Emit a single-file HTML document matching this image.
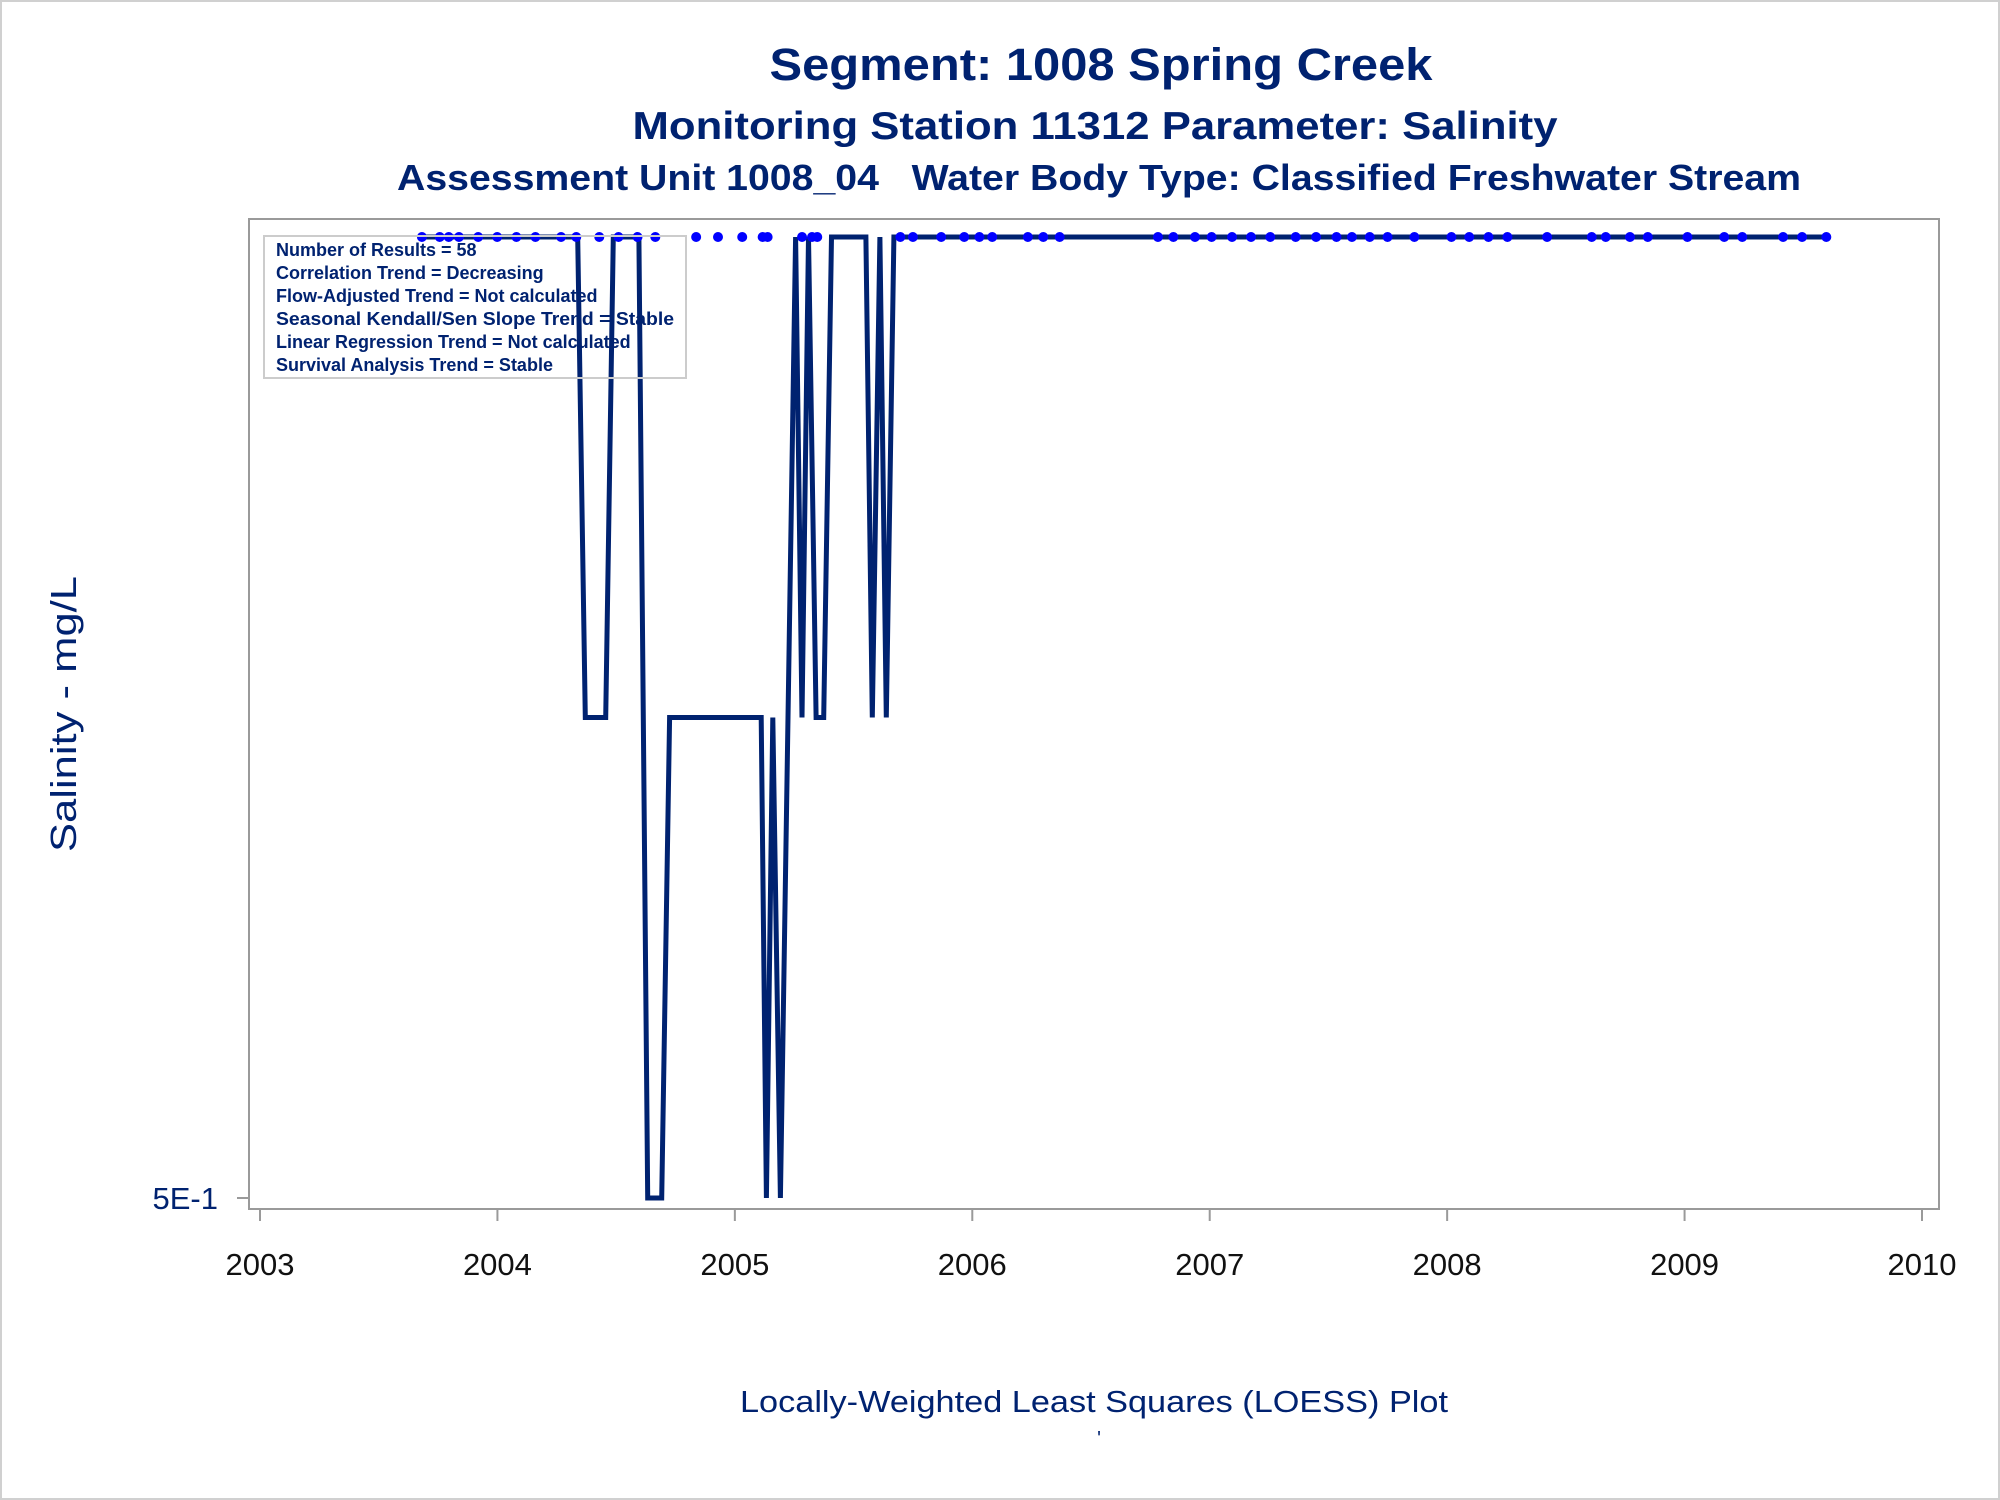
<!DOCTYPE html>
<html><head><meta charset="utf-8"><style>
html,body{margin:0;padding:0;background:#fff}
svg{display:block;font-family:"Liberation Sans",Arial,sans-serif}
</style></head><body>
<svg id="chart" width="2000" height="1500" viewBox="0 0 2000 1500">
<rect x="1" y="1" width="1998" height="1498" fill="#fff" stroke="#d0d0d0" stroke-width="2"/>
<g fill="#002270" font-weight="bold" text-anchor="middle">
<text x="1101" y="80" font-size="45" textLength="663" lengthAdjust="spacingAndGlyphs">Segment: 1008  Spring Creek</text>
<text x="1095" y="139" font-size="39" textLength="925" lengthAdjust="spacingAndGlyphs">Monitoring Station 11312 Parameter: Salinity</text>
<text x="1099" y="190" font-size="36" textLength="1404" lengthAdjust="spacingAndGlyphs" xml:space="preserve">Assessment Unit 1008_04   Water Body Type: Classified Freshwater Stream</text>
</g>
<rect x="249" y="219" width="1690" height="990" fill="none" stroke="#9a9a9a" stroke-width="2"/>
<g id="xaxis"></g>
<g id="yaxis"></g>
<g id="series"></g>
<g>
<rect x="264" y="236" width="422" height="142" fill="none" stroke="#cccccc" stroke-width="2"/>
<g fill="#002270" font-weight="bold" font-size="18">
<text x="276" y="256">Number of Results = 58</text>
<text x="276" y="279">Correlation Trend = Decreasing</text>
<text x="276" y="302">Flow-Adjusted Trend = Not calculated</text>
<text x="276" y="325" textLength="398" lengthAdjust="spacingAndGlyphs">Seasonal Kendall/Sen Slope Trend = Stable</text>
<text x="276" y="348">Linear Regression Trend = Not calculated</text>
<text x="276" y="371">Survival Analysis Trend = Stable</text>
</g></g>
<text transform="translate(76,714) rotate(-90)" text-anchor="middle" font-size="36" fill="#002270" textLength="276" lengthAdjust="spacingAndGlyphs">Salinity - mg/L</text>
<text x="1094" y="1412" text-anchor="middle" font-size="31" fill="#002270" textLength="708" lengthAdjust="spacingAndGlyphs">Locally-Weighted Least Squares (LOESS) Plot</text>
<text x="1099" y="1445" text-anchor="middle" font-size="20" fill="#002270">'</text>
</svg>
<script>
const xTicks = [2003, 2004, 2005, 2006, 2007, 2008, 2009, 2010];
const yTicks = [0.5];
const yTickLabels = ["5E-1"];
const lineDates = [2003.682,2004.338,2004.370,2004.456,2004.488,2004.596,2004.633,2004.692,2004.725,2005.111,2005.133,2005.160,2005.192,2005.256,2005.283,2005.310,2005.342,2005.374,2005.407,2005.552,2005.579,2005.611,2005.638,2005.670,2009.597];
const lineValues = [2,2,1,1,2,2,0.5,0.5,1,1,0.5,1,0.5,2,1,2,1,1,2,2,1,2,1,2,2];
const pointDates = [2003.682,2003.757,2003.795,2003.838,2003.919,2003.999,2004.080,2004.160,2004.268,2004.332,2004.429,2004.510,2004.590,2004.665,2004.837,2004.929,2005.031,2005.117,2005.138,2005.283,2005.325,2005.347,2005.697,2005.750,2005.869,2005.966,2006.030,2006.084,2006.234,2006.299,2006.368,2006.782,2006.847,2006.938,2007.008,2007.094,2007.174,2007.255,2007.362,2007.448,2007.534,2007.599,2007.674,2007.749,2007.862,2008.018,2008.093,2008.174,2008.254,2008.421,2008.609,2008.668,2008.770,2008.845,2009.012,2009.167,2009.243,2009.415,2009.495,2009.597];
const pointValues = pointDates.map(() => 2);

const NS = "http://www.w3.org/2000/svg";
function xScale(y){ return 260 + (y - 2003) * (1922 - 260) / 7; }
function yScale(v){ return 1198 + (Math.log(v) - Math.log(0.5)) / (Math.log(2) - Math.log(0.5)) * (237 - 1198); }
function mk(tag, attrs, parent){ const e = document.createElementNS(NS, tag); for (const k in attrs) e.setAttribute(k, attrs[k]); parent.appendChild(e); return e; }

const xg = document.getElementById('xaxis');
xTicks.forEach(t => {
  const x = xScale(t);
  const l = mk('line', {x1:x, x2:x, y1:1209, y2:1221, stroke:'#9a9a9a', 'stroke-width':2}, xg);
  
  
  const tx = mk('text', {x:x, y:1275, 'text-anchor':'middle', 'font-size':31, fill:'#111'}, xg);
  tx.textContent = String(t);
  
  
});
const yg = document.getElementById('yaxis');
yTicks.forEach((t, i) => {
  const y = yScale(t);
  const l = mk('line', {x1:237, x2:249, y1:y, y2:y, stroke:'#9a9a9a', 'stroke-width':2}, yg);
  
  
  const tx = mk('text', {x:218, y:y + 11, 'text-anchor':'end', 'font-size':31, fill:'#002270'}, yg);
  tx.textContent = yTickLabels[i];
  
  
});
const sg = document.getElementById('series');
const pts = lineDates.map((d, i) => xScale(d).toFixed(1) + ',' + yScale(lineValues[i]).toFixed(1)).join(' ');
const pl = mk('polyline', {points:pts, fill:'none', stroke:'#002270', 'stroke-width':5, 'stroke-linejoin':'miter'}, sg);


pointDates.forEach((d, i) => {
  const c = mk('circle', {cx:xScale(d), cy:yScale(pointValues[i]), r:5, fill:'#0000ff'}, sg);
  
  
});
</script>
</body></html>
